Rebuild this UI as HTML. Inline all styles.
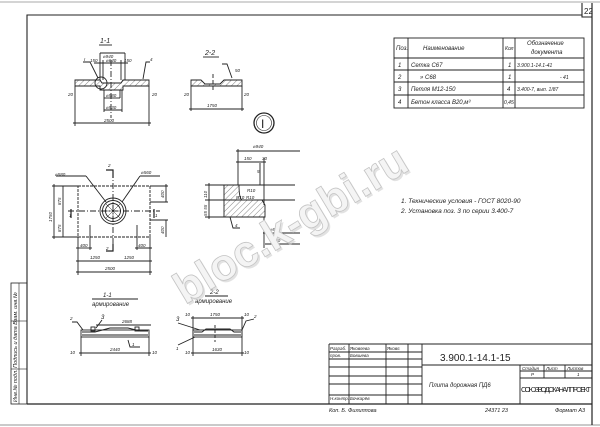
<!DOCTYPE html>
<html><head><meta charset="utf-8"><style>
html,body{margin:0;padding:0;background:#fff;width:600px;height:427px;overflow:hidden}
svg{display:block}
text{font-family:"Liberation Sans","DejaVu Sans",sans-serif;font-style:italic;fill:#222}
</style></head><body>
<svg width="600" height="427" viewBox="0 0 600 427" xmlns="http://www.w3.org/2000/svg">
<defs>
<pattern id="h" width="4" height="4" patternUnits="userSpaceOnUse" patternTransform="rotate(45)">
<line x1="0" y1="0" x2="0" y2="4" stroke="#333" stroke-width="0.6"/></pattern>
</defs>
<line x1="0" y1="2" x2="600" y2="2" stroke="#bbb" stroke-width="1.2"/>
<line x1="0" y1="425" x2="600" y2="425" stroke="#aaa" stroke-width="1.2"/>
<g stroke="#222" fill="none" stroke-width="1.1">
<polyline points="27,404 27,15 582,15"/>
<line x1="592" y1="3" x2="592" y2="425" stroke-width="1.2"/>
<line x1="27" y1="404" x2="592" y2="404" stroke-width="1.3"/>
<polyline points="582,3 582,17 592,17"/>
<rect x="11" y="283" width="16" height="121" stroke-width="0.8"/>
<line x1="19" y1="283" x2="19" y2="404" stroke-width="0.6"/>
<line x1="11" y1="321" x2="27" y2="321" stroke-width="0.6"/>
<line x1="11" y1="369" x2="27" y2="369" stroke-width="0.6"/>
</g>
<text x="584" y="14" font-size="8" style="font-style:normal">22</text>
<text transform="translate(17,402) rotate(-90)" font-size="5.5">Инв.№ подл. Подпись и дата Взам. инв.№</text>

<g stroke="#222" fill="none" stroke-width="0.9">
<rect x="394" y="38" width="190" height="70"/>
<line x1="408" y1="38" x2="408" y2="108"/><line x1="503" y1="38" x2="503" y2="108"/><line x1="515" y1="38" x2="515" y2="108"/>
<line x1="394" y1="58" x2="584" y2="58"/><line x1="394" y1="70" x2="584" y2="70"/><line x1="394" y1="82" x2="584" y2="82"/><line x1="394" y1="95" x2="584" y2="95"/>
</g>
<g font-size="6">
<text x="396" y="50">Поз.</text><text x="423" y="50">Наименование</text><text x="505" y="50" font-size="5">Кол</text>
<text x="527" y="45">Обозначение</text><text x="531" y="54">документа</text>
<text x="398" y="67">1</text><text x="411" y="67">Сетка С67</text><text x="508" y="67">1</text><text x="517" y="67" font-size="5">3.900.1-14.1-41</text>
<text x="398" y="79">2</text><text x="420" y="79">»      С68</text><text x="508" y="79">1</text><text x="560" y="79" font-size="5">- 41</text>
<text x="398" y="91">3</text><text x="411" y="91">Петля М12-150</text><text x="507" y="91">4</text><text x="517" y="91" font-size="5">3.400-7, вып. 1/87</text>
<text x="398" y="104">4</text><text x="411" y="104">Бетон класса В20,м³</text><text x="504" y="104" font-size="5">0,45</text>
</g>
<g font-size="6.5">
<text x="401" y="203">1. Технические  условия - ГОСТ 8020-90</text>
<text x="401" y="213">2. Установка поз. 3 по серии 3.400-7</text>
</g>

<g stroke="#222" fill="none" stroke-width="0.9">
<line x1="329" y1="344" x2="592" y2="344"/>
<line x1="329" y1="344" x2="329" y2="404"/>
<line x1="349" y1="344" x2="349" y2="404"/><line x1="386" y1="344" x2="386" y2="404"/>
<line x1="408" y1="344" x2="408" y2="404"/><line x1="422" y1="344" x2="422" y2="404"/>
<line x1="329" y1="352" x2="422" y2="352"/><line x1="329" y1="359" x2="422" y2="359"/>
<line x1="329" y1="367" x2="422" y2="367"/><line x1="329" y1="376" x2="422" y2="376"/>
<line x1="329" y1="384" x2="422" y2="384"/><line x1="329" y1="395" x2="422" y2="395"/>
<line x1="422" y1="365" x2="592" y2="365"/>
<line x1="520" y1="365" x2="520" y2="404"/>
<line x1="520" y1="371" x2="592" y2="371"/><line x1="520" y1="378" x2="592" y2="378"/>
<line x1="544" y1="365" x2="544" y2="378"/><line x1="565" y1="365" x2="565" y2="378"/>
</g>
<g font-size="4.5">
<text x="330" y="350">Разраб.</text><text x="350" y="350">Яковлева</text><text x="387" y="350">Яковл.</text>
<text x="330" y="357">пров.</text><text x="350" y="357">Бовшева</text>
<text x="330" y="400">Н.контр.</text><text x="350" y="400">Бочкарёв</text>
<text x="522" y="370">Стадия</text><text x="546" y="370">Лист</text><text x="567" y="370">Листов</text>
<text x="531" y="376">Р</text><text x="577" y="376">1</text>
</g>
<text x="440" y="361" font-size="10" style="font-style:normal">3.900.1-14.1-15</text>
<text x="429" y="387" font-size="6">Плита дорожная ПД6</text>
<text x="521" y="392" font-size="7.3" style="font-style:normal" textLength="70">СОЮЗВОДОКАНАЛПРОЕКТ</text>
<text x="329" y="412" font-size="5.5">Коп.  Б. Филиппова</text>
<text x="485" y="412" font-size="5.5">24371   23</text>
<text x="555" y="412" font-size="5.5">Формат А3</text>

<g stroke="#222" stroke-width="0.9" fill="none">
<text x="100" y="43" font-size="7" stroke="none">1-1</text>
<line x1="99" y1="45" x2="112" y2="45"/>
<path d="M75,80 H100 L102,83 H121 L123,80 H149 V86 H123 V90 H100 V86 H75 Z" fill="url(#h)"/>
<circle cx="101" cy="83" r="6"/>
<line x1="111" y1="60" x2="111" y2="118" stroke-dasharray="6,2,1,2"/>
<line x1="75" y1="86" x2="75" y2="126"/><line x1="149" y1="86" x2="149" y2="126"/>
<line x1="73" y1="123" x2="151" y2="123"/>
<line x1="100" y1="53" x2="125" y2="53"/><line x1="100" y1="53" x2="100" y2="80"/><line x1="125" y1="53" x2="125" y2="80"/>
<line x1="94" y1="63" x2="128" y2="63"/><line x1="103" y1="60" x2="103" y2="80"/><line x1="121" y1="60" x2="121" y2="80"/>
<line x1="104" y1="98" x2="120" y2="98"/><line x1="104" y1="90" x2="104" y2="112"/><line x1="120" y1="90" x2="120" y2="98"/>
<line x1="104" y1="110" x2="122" y2="110"/><line x1="122" y1="90" x2="122" y2="112"/>
<polyline points="83,62 90,62 98,78"/><polyline points="150,62 146,62 143,79"/>
</g>
<g font-size="4.5">
<text x="103" y="58">⌀940</text><text x="90" y="62">150</text><text x="106" y="62">⌀640</text><text x="124" y="62">150</text>
<text x="106" y="97">⌀580</text><text x="106" y="109">⌀530</text><text x="104" y="122">2500</text>
<text x="68" y="96">20</text><text x="152" y="96">20</text><text x="84" y="61">I</text><text x="150" y="61">4</text>
</g>
<g stroke="#222" stroke-width="0.9" fill="none">
<text x="205" y="55" font-size="7" stroke="none">2-2</text>
<line x1="203" y1="57" x2="219" y2="57"/>
<path d="M191,80 H201 L205,84 H220 L224,80 H242 V86 H191 Z" fill="url(#h)"/>
<line x1="213" y1="74" x2="213" y2="92" stroke-dasharray="4,2"/>
<line x1="191" y1="86" x2="191" y2="111"/><line x1="242" y1="86" x2="242" y2="111"/>
<line x1="189" y1="109" x2="244" y2="109"/>
<polyline points="222,64 227,64 232,78"/>
</g>
<g font-size="4.5"><text x="207" y="107">1750</text><text x="184" y="96">20</text><text x="244" y="96">20</text><text x="235" y="72">50</text></g>
<circle cx="264" cy="123" r="10" stroke="#222" stroke-width="1.3" fill="none"/>
<circle cx="264" cy="123" r="7.5" stroke="#222" stroke-width="0.6" fill="none"/>
<text x="261" y="128" font-size="12" style="font-style:normal">I</text>

<g stroke="#222" stroke-width="0.9" fill="none">
<rect x="78" y="186" width="72" height="51" stroke-dasharray="3,1"/>
<circle cx="113" cy="211" r="13"/><circle cx="113" cy="211" r="10.5"/><circle cx="113" cy="211" r="7.5"/>
<path d="M106,204 L120,218 M120,204 L106,218 M113,203 V219 M105,211 H121" stroke-width="0.5"/>
<line x1="113" y1="172" x2="113" y2="250" stroke-dasharray="6,2,1,2"/>
<line x1="68" y1="211" x2="160" y2="211" stroke-dasharray="6,2,1,2"/>
<polyline points="106,170 113,170 113,178" stroke-width="1.2"/><polyline points="106,251 113,251 113,244" stroke-width="1.2"/>
<polyline points="71,209 71,218" stroke-width="1.2"/><polyline points="154,209 154,218" stroke-width="1.2"/>
<line x1="56" y1="176" x2="86" y2="176"/><line x1="86" y1="176" x2="106" y2="202"/>
<line x1="140" y1="176" x2="160" y2="176"/><line x1="140" y1="176" x2="122" y2="202"/>
<line x1="52" y1="186" x2="78" y2="186"/><line x1="52" y1="237" x2="78" y2="237"/>
<line x1="54" y1="184" x2="54" y2="239"/><line x1="63" y1="186" x2="63" y2="237"/>
<line x1="150" y1="186" x2="168" y2="186"/><line x1="166" y1="184" x2="166" y2="202"/><line x1="150" y1="202" x2="168" y2="202"/>
<line x1="150" y1="220" x2="168" y2="220"/><line x1="166" y1="220" x2="166" y2="237"/>
<line x1="78" y1="237" x2="78" y2="275"/><line x1="150" y1="237" x2="150" y2="275"/>
<line x1="90" y1="225" x2="90" y2="250"/><line x1="137" y1="225" x2="137" y2="250"/>
<line x1="76" y1="248" x2="92" y2="248"/><line x1="135" y1="248" x2="152" y2="248"/>
<line x1="76" y1="261" x2="152" y2="261"/><line x1="76" y1="272" x2="152" y2="272"/>
</g>
<g font-size="4.5">
<text x="55" y="176">⌀580</text><text x="141" y="174">⌀560</text><text x="108" y="167">2</text><text x="106" y="250">2</text>
<text x="69" y="217">1</text><text x="155" y="217">1</text>
<text x="80" y="247">400</text><text x="138" y="247">400</text>
<text x="90" y="259">1250</text><text x="124" y="259">1250</text><text x="105" y="270">2500</text>
<text transform="translate(52,222) rotate(-90)">1750</text><text transform="translate(61,205) rotate(-90)">875</text>
<text transform="translate(61,232) rotate(-90)">875</text><text transform="translate(164,198) rotate(-90)">400</text>
<text transform="translate(164,234) rotate(-90)">400</text>
</g>

<g stroke="#222" stroke-width="0.9" fill="none">
<path d="M224,185 H239 Q239,198 242,200 H262 L265,205 V217 H224 Z" fill="url(#h)"/>
<line x1="238" y1="149" x2="238" y2="185"/><line x1="264" y1="158" x2="264" y2="205"/><line x1="260" y1="163" x2="260" y2="185"/>
<line x1="236" y1="151" x2="300" y2="151"/><line x1="236" y1="162" x2="266" y2="162"/>
<line x1="205" y1="185" x2="295" y2="185"/><line x1="205" y1="200" x2="295" y2="200"/><line x1="205" y1="217" x2="224" y2="217"/>
<line x1="209" y1="183" x2="209" y2="219"/>
<line x1="263" y1="233" x2="300" y2="233"/><line x1="265" y1="244" x2="300" y2="244"/><line x1="264" y1="217" x2="264" y2="248"/>
<polyline points="230,217 233,228 240,228"/>
</g>
<g font-size="4.5">
<text x="253" y="148">⌀940</text><text x="244" y="160">150</text><text x="262" y="160">30</text><text x="257" y="173">5</text>
<text x="247" y="192">R10</text><text x="236" y="199">R10</text><text x="246" y="199">R10</text>
<text x="270" y="231">⌀580</text><text x="270" y="242">⌀550</text><text x="235" y="227">4</text>
<text transform="translate(207,198) rotate(-90)">110</text><text transform="translate(207,216) rotate(-90)">55 55</text>
</g>

<g stroke="#222" stroke-width="0.9" fill="none">
<text x="103" y="297" font-size="6" stroke="none">1-1</text>
<line x1="92" y1="299" x2="138" y2="299"/>
<text x="92" y="306" font-size="6" stroke="none">армирование</text>
<rect x="81" y="330" width="68" height="7"/>
<path d="M82,332 H95 L110,328 H128 L140,331 H148" stroke-width="1"/>
<line x1="82" y1="335" x2="148" y2="335" stroke-width="1"/>
<rect x="91" y="327" width="4" height="4"/><rect x="135" y="327" width="4" height="4"/>
<line x1="81" y1="337" x2="81" y2="356"/><line x1="149" y1="337" x2="149" y2="356"/><line x1="79" y1="353" x2="151" y2="353"/>
<line x1="96" y1="325" x2="151" y2="325"/>
<polyline points="72,322 77,322 83,330"/><polyline points="102,320 96,328"/><polyline points="128,340 130,347 140,347"/>
</g>
<g font-size="4.5"><text x="70" y="320">2</text><text x="101" y="319" font-size="6">3</text><text x="122" y="323">2688</text>
<text x="110" y="351">2440</text><text x="70" y="354">10</text><text x="152" y="354">10</text><text x="132" y="346">1</text></g>
<g stroke="#222" stroke-width="0.9" fill="none">
<text x="210" y="294" font-size="6" stroke="none">2-2</text>
<line x1="205" y1="296" x2="228" y2="296"/>
<text x="195" y="303" font-size="6" stroke="none">армирование</text>
<rect x="193" y="330" width="49" height="7"/>
<path d="M194,332 H202 L206,329 H230 L234,332 H241" stroke-width="1"/>
<line x1="194" y1="335" x2="241" y2="335" stroke-width="1"/>
<line x1="193" y1="316" x2="193" y2="356"/><line x1="242" y1="316" x2="242" y2="356"/>
<line x1="191" y1="318" x2="244" y2="318"/><line x1="191" y1="353" x2="244" y2="353"/>
<line x1="215" y1="325" x2="215" y2="342" stroke-dasharray="3,2"/>
<polyline points="178,323 200,330"/><polyline points="178,345 195,337"/><polyline points="254,319 246,321 242,330"/>
</g>
<g font-size="4.5"><text x="176" y="321" font-size="6">3</text><text x="176" y="350">1</text><text x="254" y="318">2</text>
<text x="210" y="316">1750</text><text x="212" y="351">1630</text>
<text x="185" y="316">10</text><text x="244" y="316">10</text><text x="185" y="354">10</text><text x="244" y="354">10</text></g>

<text x="0" y="0" font-size="44" transform="translate(187,307) rotate(-31)" style="font-style:normal;font-weight:bold;fill:#d0d0d0;opacity:0.6">bloc.k-gbi.ru</text>
<text x="0" y="0" font-size="44" transform="translate(185,305) rotate(-31)" style="font-style:normal;font-weight:bold;fill:#f4f4f4;stroke:#c4c4c4;stroke-width:0.8">bloc.k-gbi.ru</text>
</svg>
</body></html>
